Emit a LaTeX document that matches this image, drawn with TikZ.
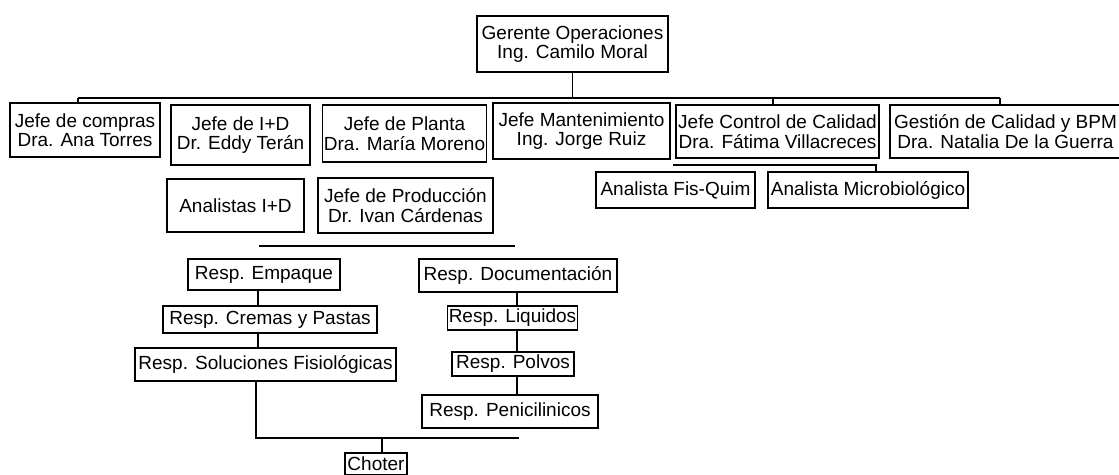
\documentclass[tikz,border=0pt]{standalone}
\usepackage{fontspec}
\setmainfont{Liberation Sans}
\begin{document}
\begin{tikzpicture}[x=1pt,y=-1pt,
  box/.style={draw, line width=1.1pt, rectangle, align=center, inner sep=1pt,
              font=\fontsize{19}{19.5}\selectfont},
  wire/.style={line width=1.1pt}]
\useasboundingbox (0,0) rectangle (1119,474);

% management level
\node[box, minimum width=191pt, minimum height=56pt] (gerente) at (572.5,44) {Gerente Operaciones\\Ing. Camilo Moral};

% department heads
\node[box, minimum width=150pt, minimum height=54pt] (compras) at (85,130) {Jefe de compras\\Dra. Ana Torres};
\node[box, minimum width=139pt, minimum height=60pt] (imasd) at (240.5,135) {Jefe de I+D\\Dr. Eddy Terán};
\node[box, minimum width=163pt, minimum height=57pt] (planta) at (404.5,133.5) {Jefe de Planta\\Dra. María Moreno};
\node[box, minimum width=177pt, minimum height=56pt] (mant) at (581.5,131) {Jefe Mantenimiento\\Ing. Jorge Ruiz};
\node[box, minimum width=203pt, minimum height=53pt] (control) at (777.5,131.5) {Jefe Control de Calidad\\Dra. Fátima Villacreces};
\node[box, minimum width=231pt, minimum height=53pt] (gestion) at (1005.5,131.5) {Gestión de Calidad y BPM\\Dra. Natalia De la Guerra};

% second level
\node[box, minimum width=137pt, minimum height=53pt] (analistas) at (235.5,205.5) {Analistas I+D};
\node[box, minimum width=175pt, minimum height=55pt] (produccion) at (405.5,205.5) {Jefe de Producción\\Dr. Ivan Cárdenas};
\node[box, minimum width=159pt, minimum height=36pt] (fisquim) at (675.5,190) {Analista Fis-Quim};
\node[box, minimum width=200pt, minimum height=36pt] (micro) at (868,190) {Analista Microbiológico};

% production staff, left column
\node[box, minimum width=152pt, minimum height=31pt] (empaque) at (264,274.5) {Resp. Empaque};
\node[box, minimum width=214pt, minimum height=27pt] (cremas) at (270,319.5) {Resp. Cremas y Pastas};
\node[box, minimum width=261pt, minimum height=33pt] (soluciones) at (265.5,364.5) {Resp. Soluciones Fisiológicas};

% production staff, right column
\node[box, minimum width=198pt, minimum height=33pt] (documentacion) at (518,275.5) {Resp. Documentación};
\node[box, minimum width=129pt, minimum height=24pt] (liquidos) at (512.5,318) {Resp. Liquidos};
\node[box, minimum width=122pt, minimum height=24pt] (polvos) at (513,364) {Resp. Polvos};
\node[box, minimum width=176pt, minimum height=33pt] (penicilinicos) at (510,411.5) {Resp. Penicilinicos};

\node[box, minimum width=62pt, minimum height=22pt] (choter) at (376,464) {Choter};

% bus lines and junction points
\coordinate (busL) at (78,98);
\coordinate (busC) at (773,98);
\coordinate (busR) at (1000,98);
\coordinate (qL) at (673,165);
\coordinate (qR) at (876,165);
\coordinate (pL) at (259,246);
\coordinate (pR) at (515,246);
\coordinate (lx) at (258,0);
\coordinate (rx) at (517,0);
\coordinate (cL) at (256,438);
\coordinate (cR) at (519,438);
\coordinate (cx) at (382,0);

% top connectors
\draw[wire] (busL) -- (busR);
\draw[wire] (gerente.south) -- (gerente.south |- busL);
\draw[wire] (busL) -- (busL |- compras.north);
\draw[wire] (busC) -- (busC |- control.north);
\draw[wire] (busR) -- (busR |- gestion.north);

% quality control branch
\draw[wire] (qL) -- (qR) -- (qR |- micro.north);

% production bus
\draw[wire] (pL) -- (pR);

% left column chain
\draw[wire] (empaque.south -| lx) -- (cremas.north -| lx);
\draw[wire] (cremas.south -| lx) -- (soluciones.north -| lx);

% right column chain
\draw[wire] (documentacion.south -| rx) -- (liquidos.north -| rx);
\draw[wire] (liquidos.south -| rx) -- (polvos.north -| rx);
\draw[wire] (polvos.south -| rx) -- (penicilinicos.north -| rx);

% driver
\draw[wire] (soluciones.south -| cL) -- (cL) -- (cR);
\draw[wire] (cL -| cx) -- (choter.north -| cx);
\end{tikzpicture}
\end{document}
